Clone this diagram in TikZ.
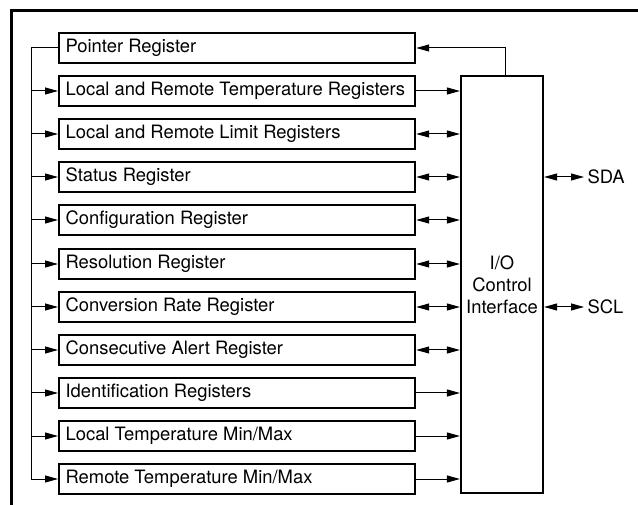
\documentclass[tikz,border=0pt]{standalone}
\usepackage{fontspec}
\setmainfont{TeX Gyre Heros}
\usetikzlibrary{arrows.meta}

\tikzset{
  reg/.style={draw=black, line width=2.2pt, minimum height=30pt, text width=348pt,
    inner xsep=4pt, inner ysep=0pt, align=flush left, anchor=west,
    font=\fontsize{18.4}{22}\selectfont},
  wire/.style={line width=1pt, >={Triangle[length=13pt,width=7pt]}}
}

\begin{document}
\begin{tikzpicture}[x=1pt,y=-1pt]
\useasboundingbox (0,0) rectangle (638,505);
\draw[line width=3pt] (11,505) -- (11,11) -- (638,11);

\node[reg] (ptr) at (58,48) {\hspace*{2.5pt}Pointer Register};
\node[reg] (temp) at (58,91) {\hspace*{2.5pt}Local and Remote Temperature Registers};
\node[reg] (lim) at (58,134) {\hspace*{2.5pt}Local and Remote Limit Registers};
\node[reg] (stat) at (58,177) {\hspace*{2.5pt}Status Register};
\node[reg] (conf) at (58,220) {\hspace*{2.5pt}Configuration Register};
\node[reg] (res) at (58,264) {\hspace*{2.5pt}Resolution Register};
\node[reg] (conv) at (58,307) {\hspace*{2.5pt}Conversion Rate Register};
\node[reg] (cons) at (58,350) {\hspace*{2.5pt}Consecutive Alert Register};
\node[reg] (ident) at (58,393) {\hspace*{2.5pt}Identification Registers};
\node[reg] (lmm) at (58,436) {\hspace*{2.5pt}Local Temperature Min/Max};
\node[reg] (rmm) at (58,479) {\hspace*{2.5pt}Remote Temperature Min/Max};

\node[draw=black, line width=2.2pt, minimum width=82pt, minimum height=417pt,
  align=center, font=\fontsize{18.4}{22}\selectfont] (io) at (502,284.5)
  {I/O\\Control\\Interface};

\node[anchor=west, font=\fontsize{18.4}{22}\selectfont] (sda) at (584,177) {SDA};
\node[anchor=west, font=\fontsize{18.4}{22}\selectfont] (scl) at (584,307) {SCL};

% bus on the left
\coordinate (bus) at (31,48);
\draw[wire] (ptr.west) -- (bus) -- (rmm.west -| bus);
\draw[wire,->] (temp.west -| bus) -- (temp.west);
\draw[wire,->] (lim.west -| bus) -- (lim.west);
\draw[wire,->] (stat.west -| bus) -- (stat.west);
\draw[wire,->] (conf.west -| bus) -- (conf.west);
\draw[wire,->] (res.west -| bus) -- (res.west);
\draw[wire,->] (conv.west -| bus) -- (conv.west);
\draw[wire,->] (cons.west -| bus) -- (cons.west);
\draw[wire,->] (ident.west -| bus) -- (ident.west);
\draw[wire,->] (lmm.west -| bus) -- (lmm.west);
\draw[wire,->] (rmm.west -| bus) -- (rmm.west);

% registers to interface
\draw[wire,->] ([xshift=3pt]io.north) |- (ptr.east);
\draw[wire,->] (temp.east) -- (temp.east -| io.west);
\draw[wire,<->] (lim.east) -- (lim.east -| io.west);
\draw[wire,<->] (stat.east) -- (stat.east -| io.west);
\draw[wire,<->] (conf.east) -- (conf.east -| io.west);
\draw[wire,<->] (res.east) -- (res.east -| io.west);
\draw[wire,<->] (conv.east) -- (conv.east -| io.west);
\draw[wire,<->] (cons.east) -- (cons.east -| io.west);
\draw[wire,->] (ident.east) -- (ident.east -| io.west);
\draw[wire,->] (lmm.east) -- (lmm.east -| io.west);
\draw[wire,->] (rmm.east) -- (rmm.east -| io.west);

\draw[wire,<->] (sda.west -| io.east) -- (sda.west);
\draw[wire,<->] (scl.west -| io.east) -- (scl.west);

\end{tikzpicture}
\end{document}
